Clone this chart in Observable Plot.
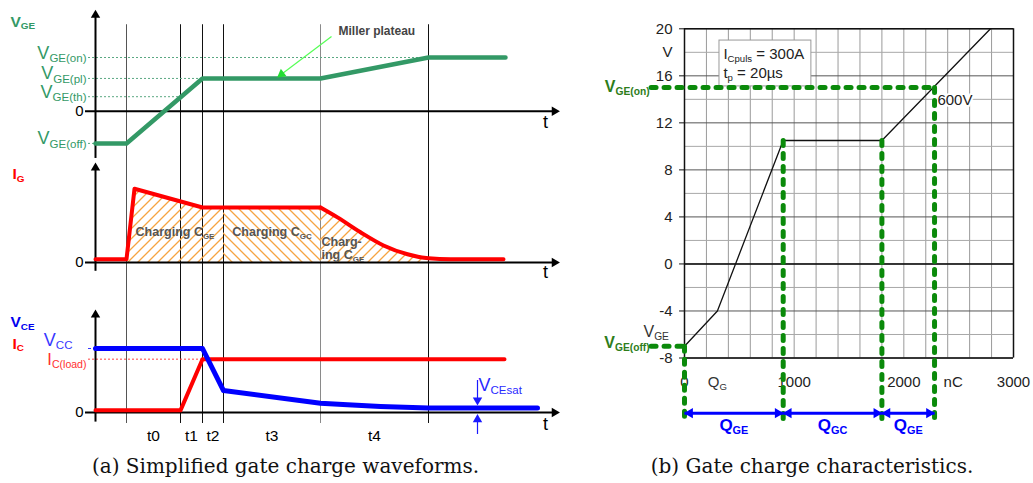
<!DOCTYPE html>
<html><head><meta charset="utf-8">
<script src="https://cdn.jsdelivr.net/npm/d3@7"></script>
<script src="https://cdn.jsdelivr.net/npm/@observablehq/plot@0.6"></script>
<style>
body{margin:0;background:#fff}
#root{position:relative;width:1033px;height:483px;overflow:hidden;background:#fff}
#root svg.plot-layer{position:absolute;left:0;top:0;background:transparent;overflow:visible;font-family:"Liberation Sans",Arial,sans-serif;max-width:none}
.cap{position:absolute;top:456px;line-height:20px;font-family:"DejaVu Serif",serif;font-size:20px;color:#111;white-space:nowrap;text-align:center}
</style></head><body>
<div id="root">
<svg width="0" height="0" style="position:absolute">
<defs>
<pattern id="hatchF" patternUnits="userSpaceOnUse" width="10" height="10"><path d="M-1,1 l2,-2 M0,10 l10,-10 M9,11 l2,-2" stroke="#f6a441" stroke-width="1.3"/></pattern>
<pattern id="hatchB" patternUnits="userSpaceOnUse" width="10" height="10"><path d="M-1,9 l2,2 M0,0 l10,10 M9,-1 l2,2" stroke="#f6a441" stroke-width="1.3"/></pattern>
</defs></svg>
<div class="cap" style="left:0;width:571px">(a) Simplified gate charge waveforms.</div>
<div class="cap" style="left:612px;width:400px">(b) Gate charge characteristics.</div>
</div>
<script>
// ---------------- data: (a) simplified waveforms ----------------
const tLines = [3.1, 8.5, 10.7, 12.8, 22.5, 33.3];
const tLabels = ["t0", "t1", "t2", "t3", "t4"];
const vgeT = [0, 3.1, 10.7, 22.5, 33.3, 41.0];
const vgeV = [-6, -6, 6.1, 6.1, 10, 10];
const vgeLevelNames = ["V_{GE(on)}", "V_{GE(pl)}", "V_{GE(th)}", "V_{GE(off)}"];
const vgeLevels = [10, 6.1, 2.7, -6];
const vgeLevelEnds = [41.0, 10.7, 8.5, 0];
const igT = [0, 3.1, 3.9, 10.7, 12.8, 22.5, 24.2, 26.5, 28.8, 31.2, 33.3, 35.5, 40.8];
const igV = [0.3, 0.3, 6.7, 5.0, 5.0, 5.0, 4.1, 2.75, 1.55, 0.75, 0.38, 0.3, 0.3];
const igRegionNames = ["Charging C_{GE}", "Charging C_{GC}"];
const vceT = [0, 10.7, 12.8, 22.5, 25.2, 28.5, 33.3, 44.2];
const vceV = [6, 6, 2.06, 0.87, 0.72, 0.56, 0.42, 0.42];
const icT = [0, 8.5, 10.7, 40.9];
const icV = [0.2, 0.2, 5, 5];
const vcc = 6, icLoad = 5;
// ---------------- data: (b) gate charge characteristics ----------------
const qgQ = [0, 300, 900, 1800, 2790];
const qgV = [-7, -4, 10.5, 10.5, 20];
const vgeOn = 15, vgeOff = -7;
const qMarks = [0, 900, 1800, 2280];
const qNames = ["Q_{GE}", "Q_{GC}", "Q_{GE}"];
const yTicks = [20, 16, 12, 8, 4, 0, -4, -8];
const xTicks = [0, 1000, 2000, 3000];

// ---------------- helpers ----------------
const root = document.getElementById("root");
const W = 1033, H = 483, NS = "http://www.w3.org/2000/svg";
const narrow = "'Liberation Sans Narrow','Arial Narrow','Liberation Sans',Arial,sans-serif";
function subify(svg, ratio = 0.64) {
  const nodes = [];
  const walk = el => { for (const n of el.childNodes) { if (n.nodeType === 3) { if (n.nodeValue.includes("_{")) nodes.push(n); } else walk(n); } };
  walk(svg);
  for (const n of nodes) {
    const parts = n.nodeValue.split(/(_\{[^}]*\})/).filter(p => p);
    const parent = n.parentNode;
    let shifted = false;
    for (const p of parts) {
      const ts = document.createElementNS(NS, "tspan");
      if (p.startsWith("_{")) {
        ts.textContent = p.slice(2, -1);
        ts.setAttribute("font-size", (ratio * 100) + "%");
        ts.setAttribute("dy", "0.3em");
        shifted = true;
      } else {
        ts.textContent = p;
        if (shifted) { ts.setAttribute("dy", (-0.3 * ratio) + "em"); shifted = false; }
      }
      parent.insertBefore(ts, n);
    }
    parent.removeChild(n);
  }
}
function layer(x, y, marks) {
  const svg = Plot.plot({width: W, height: H, margin: 0, x: {...x, axis: null}, y: {...y, axis: null}, color: {type: "identity"}, marks});
  svg.classList.add("plot-layer");
  root.appendChild(svg);
  subify(svg);
}
const label = (s, x, y, o = {}) => Plot.text([s], {x, y, text: d => d, ...o});
const head = (x, y, rotate, o = {}) => Plot.dot([0], {x, y, symbol: "triangle", r: 3.5, fill: "black", stroke: "none", rotate, ...o});
const xL = {domain: [0, 46.5], range: [95, 560]};
const axisEnd = 45.9;
const mids = d3.pairs(tLines).map(([a, b]) => (a + b) / 2);
const lineColors = tLines.map((d, i) => i === 4 ? "#8a8a8a" : i === 0 ? "#555" : "#111");
const vgeColor = "#339966", red = "#ff0000", blue = "#0000ff";
const gray = {fontSize: 12.5, fontWeight: "bold", fill: "#555", fontFamily: narrow};
const zeroLabel = {textAnchor: "end", fontSize: 15, dx: 0};

// ---------------- V_GE panel ----------------
layer(xL, {domain: [0, 10], range: [110.7, 57]}, [
  Plot.ruleX(tLines, {y1: -8.44, y2: 16.1, stroke: lineColors, strokeWidth: 1}),
  Plot.ruleY(vgeLevels, {x1: -0.7, x2: vgeLevelEnds, stroke: "#5aa882", strokeWidth: 1, strokeDasharray: "2,2"}),
  Plot.ruleY([0], {x1: -1, x2: axisEnd, stroke: "black", strokeWidth: 2}),
  head(axisEnd, 0, 90),
  Plot.ruleX([0], {y1: -8.8, y2: 17.9, stroke: "black", strokeWidth: 2}),
  head(0, 17.9, 0),
  Plot.line(vgeT, {x: vgeT, y: vgeV, stroke: vgeColor, strokeWidth: 4.5}),
  Plot.text(vgeLevels, {x: -0.9, y: vgeLevels, text: vgeLevelNames, textAnchor: "end", lineAnchor: "bottom", dy: 1, fontSize: 18, fill: vgeColor}),
  label("0", -1.2, 0, zeroLabel),
  label("t", 45, -2.1, {fontSize: 18}),
  label("V_{GE}", -8.5, 15.77, {textAnchor: "start", lineAnchor: "bottom", fontSize: 15.5, fontWeight: "bold", fill: vgeColor}),
  Plot.link([0], {x1: 23.6, y1: 13.9, x2: 18.6, y2: 6.9, stroke: "#55ff55", strokeWidth: 1.2}),
  head(18.6, 6.9, 233, {fill: "#22dd33"}),
  label("Miller plateau", 24.3, 14.1, {textAnchor: "start", lineAnchor: "bottom", fontSize: 12, fontWeight: "bold", fill: "#444", fontFamily: narrow})
]);

// ---------------- I_G panel ----------------
const igRows = igT.map((t, i) => ({t, v: igV[i]}));
const inRange = (a, b) => igRows.filter(d => d.t >= a && d.t <= b);
layer(xL, {domain: [0, 5], range: [262, 207]}, [
  Plot.ruleX(tLines, {y1: -3.455, y2: 9.64, stroke: lineColors, strokeWidth: 1}),
  Plot.areaY(inRange(tLines[0], tLines[3]), {x: "t", y: "v", fill: "url(#hatchF)"}),
  Plot.areaY(inRange(tLines[3], tLines[4]), {x: "t", y: "v", fill: "url(#hatchB)"}),
  Plot.areaY(inRange(tLines[4], tLines[5]), {x: "t", y: "v", fill: "url(#hatchF)", curve: "monotone-x"}),
  Plot.ruleY([0], {x1: -1, x2: axisEnd, stroke: "black", strokeWidth: 2}),
  head(axisEnd, 0, 90),
  Plot.ruleX([0], {y1: -0.8, y2: 8.6, stroke: "black", strokeWidth: 2}),
  head(0, 8.6, 0),
  Plot.line(inRange(0, tLines[4]), {x: "t", y: "v", stroke: red, strokeWidth: 4}),
  Plot.line(inRange(tLines[4], 100), {x: "t", y: "v", stroke: red, strokeWidth: 4, curve: "monotone-x"}),
  Plot.text(igRegionNames, {x: [(tLines[0] + tLines[3]) / 2, (tLines[3] + tLines[4]) / 2], y: 2.73, text: d => d, ...gray}),
  label("Charg-", tLines[4] + 0.1, 1.9, {textAnchor: "start", ...gray}),
  label("ing C_{GE}", tLines[4] + 0.1, 0.64, {textAnchor: "start", ...gray}),
  label("0", -1.2, 0, zeroLabel),
  label("t", 45, -0.9, {fontSize: 18}),
  label("I_{G}", -8.3, 7.55, {textAnchor: "start", lineAnchor: "bottom", fontSize: 15.5, fontWeight: "bold", fill: red})
]);

// ---------------- V_CE / I_C panel ----------------
layer(xL, {domain: [0, 6], range: [412, 348]}, [
  Plot.ruleX(tLines, {y1: -1.03, y2: 10.5, stroke: lineColors, strokeWidth: 1}),
  Plot.ruleY([vcc], {x1: -0.7, x2: 0, stroke: "#3838ff", strokeWidth: 1, strokeDasharray: "3,2"}),
  Plot.ruleY([icLoad], {x1: -0.7, x2: tLines[2], stroke: "#ff4040", strokeWidth: 1, strokeDasharray: "2,2"}),
  Plot.ruleY([0], {x1: -1, x2: axisEnd, stroke: "black", strokeWidth: 2}),
  head(axisEnd, 0, 90),
  Plot.ruleX([0], {y1: -0.9, y2: 9.15, stroke: "black", strokeWidth: 2}),
  head(0, 9.15, 0),
  Plot.line(icT, {x: icT, y: icV, stroke: red, strokeWidth: 4}),
  Plot.line(vceT, {x: vceT, y: vceV, stroke: blue, strokeWidth: 5}),
  Plot.ruleX([38.2], {y1: 3.0, y2: 1.16, stroke: "#1a1aff", strokeWidth: 1.2}),
  head(38.2, 1.16, 180, {fill: "#1a1aff"}),
  Plot.ruleX([38.2], {y1: -0.65, y2: -2.06, stroke: "#1a1aff", strokeWidth: 1.2}),
  head(38.2, -0.65, 0, {fill: "#1a1aff"}),
  label("V_{CEsat}", 38.3, 2.06, {textAnchor: "start", lineAnchor: "bottom", fontSize: 18, fill: "#2a2aff"}),
  Plot.text(tLabels, {x: mids, y: -2.16, text: tLabels, fontSize: 15.5}),
  label("V_{CC}", -2.3, vcc, {textAnchor: "end", lineAnchor: "bottom", dy: -3, fontSize: 18, fill: "#3838ff"}),
  label("I_{C(load)}", -0.9, icLoad, {textAnchor: "end", lineAnchor: "bottom", dy: 6, fontSize: 16.5, fill: "#ff3030"}),
  label("0", -1.2, 0, zeroLabel),
  label("t", 45, -1.1, {fontSize: 18}),
  label("V_{CE}", -8.5, 8.06, {textAnchor: "start", lineAnchor: "bottom", fontSize: 15.5, fontWeight: "bold", fill: "#0000ee"}),
  label("I_{C}", -8.3, 6.0, {textAnchor: "start", lineAnchor: "bottom", fontSize: 15.5, fontWeight: "bold", fill: red})
]);

// ---------------- (b) gate charge characteristics ----------------
const gridX = d3.range(0, 3001, 200), gridY = d3.range(-8, 21, 2);
const green = "#0b8a0b";
const vTop = [vgeOff, qgV[2], qgV[3], vgeOn];
const dashBottom = -13.49, arrowRow = -12.69;
layer({domain: [0, 3000], range: [684, 1013]}, {domain: [-8, 20], range: [357.5, 28.3]}, [
  Plot.ruleX(gridX, {y1: -8, y2: 20, stroke: "#9a9a9a", strokeWidth: 1}),
  Plot.ruleY(gridY.filter(v => v % 4 !== 0), {x1: 0, x2: 3000, stroke: "#a8a8a8", strokeWidth: 1}),
  Plot.ruleY(gridY.filter(v => v % 4 === 0), {x1: 0, x2: 3000, stroke: "#555", strokeWidth: 1}),
  Plot.ruleY([0], {x1: 0, x2: 3000, stroke: "#111", strokeWidth: 1.6}),
  Plot.ruleX([0, 3000], {y1: -8, y2: 20, stroke: "#111", strokeWidth: 1.5}),
  Plot.ruleY([-8, 20], {x1: 0, x2: 3000, stroke: "#111", strokeWidth: 1.5}),
  Plot.ruleY(yTicks, {x1: -45, x2: 0, stroke: "#111", strokeWidth: 1}),
  Plot.text(yTicks, {x: 0, y: yTicks, text: d => String(d), textAnchor: "end", dx: -12, fontSize: 15, fill: "#222"}),
  label("V", 0, 18, {textAnchor: "end", dx: -12, fontSize: 15, fill: "#222"}),
  Plot.text(xTicks, {x: xTicks, y: -10.08, text: d => String(d), fontSize: 15, fill: "#222"}),
  label("Q_{G}", 300, -10.08, {fontSize: 15, fill: "#333"}),
  label("nC", 2450, -10.08, {fontSize: 15, fill: "#222"}),
  Plot.rect([0], {x1: 319, x2: 1157, y1: 15.1, y2: 19.0, fill: "white", stroke: "#999", strokeWidth: 1}),
  label("I_{Cpuls} = 300A", 355, 17.8, {textAnchor: "start", fontSize: 15, fill: "#222"}),
  label("t_{p} = 20µs", 355, 16.2, {textAnchor: "start", fontSize: 15, fill: "#222"}),
  Plot.line(qgQ, {x: qgQ, y: qgV, stroke: "#111", strokeWidth: 1.3}),
  label("600V", 2306, 13.9, {textAnchor: "start", fontSize: 15, fill: "#222", stroke: "white", strokeWidth: 4, paintOrder: "stroke"}),
  label("V_{GE}", -374, -5.75, {textAnchor: "start", fontSize: 16, fill: "#333"}),
  Plot.link([vgeOn, vgeOff], {x1: -305, x2: [qMarks[3], qMarks[0]], y1: d => d, y2: d => d, stroke: green, strokeWidth: 5, strokeDasharray: "5,8", strokeLinecap: "round"}),
  Plot.link(qMarks, {x1: qMarks, x2: qMarks, y1: vTop, y2: dashBottom, stroke: green, strokeWidth: 5, strokeDasharray: "5,8", strokeLinecap: "round"}),
  label("V_{GE(on)}", -318, vgeOn, {textAnchor: "end", lineAnchor: "bottom", dy: 4, fontSize: 16, fontWeight: "bold", fill: "#2e7d1a"}),
  label("V_{GE(off)}", -318, vgeOff, {textAnchor: "end", lineAnchor: "bottom", dy: 2, fontSize: 16, fontWeight: "bold", fill: "#2e7d1a"}),
  Plot.link(d3.pairs(qMarks), {x1: d => d[0], x2: d => d[1], y1: arrowRow, y2: arrowRow, stroke: blue, strokeWidth: 3}),
  Plot.dot(d3.pairs(qMarks), {x: d => d[1], y: arrowRow, dx: -5.4, symbol: "triangle", r: 3.8, rotate: 90, fill: blue}),
  Plot.dot(d3.pairs(qMarks), {x: d => d[0], y: arrowRow, dx: 5.4, symbol: "triangle", r: 3.8, rotate: -90, fill: blue}),
  Plot.text(d3.pairs(qMarks), {x: d => (d[0] + d[1]) / 2, y: -13.74, text: (d, i) => qNames[i], fontSize: 17, fontWeight: "bold", fill: blue})
]);
</script>
</body></html>
